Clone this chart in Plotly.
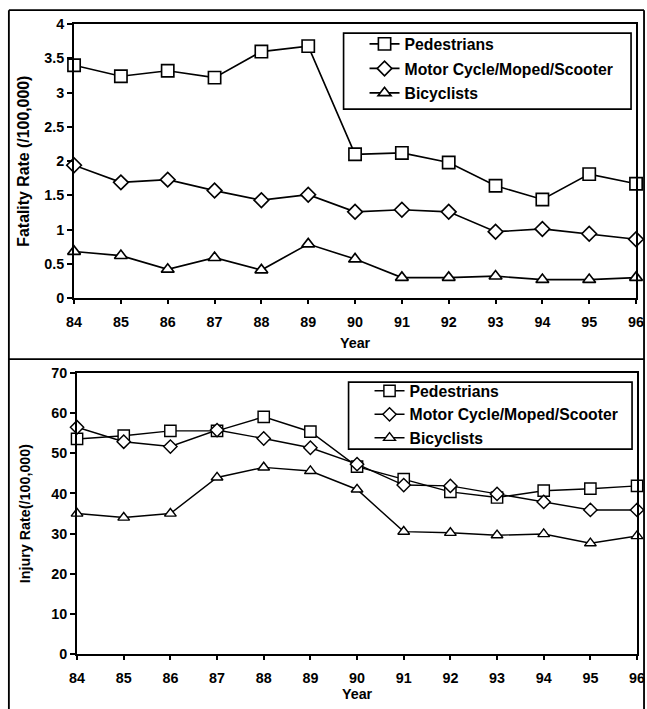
import plotly.graph_objects as go

years = [84, 85, 86, 87, 88, 89, 90, 91, 92, 93, 94, 95, 96]
series_names = ["Pedestrians", "Motor Cycle/Moped/Scooter", "Bicyclists"]

fatal_ped = [3.40, 3.24, 3.32, 3.22, 3.60, 3.68, 2.10, 2.12, 1.98, 1.64, 1.44, 1.81, 1.67]
fatal_moto = [1.94, 1.69, 1.73, 1.57, 1.43, 1.51, 1.26, 1.29, 1.26, 0.97, 1.01, 0.94, 0.86]
fatal_bike = [0.68, 0.62, 0.42, 0.59, 0.41, 0.79, 0.57, 0.30, 0.30, 0.32, 0.27, 0.27, 0.30]

injury_ped = [53.6, 54.4, 55.6, 55.6, 59.1, 55.4, 46.7, 43.6, 40.4, 39.0, 40.7, 41.2, 41.9]
injury_moto = [56.5, 52.9, 51.7, 55.8, 53.7, 51.4, 47.3, 42.1, 41.9, 39.9, 37.9, 35.9, 35.9]
injury_bike = [35.0, 34.0, 35.0, 44.0, 46.5, 45.6, 41.0, 30.5, 30.2, 29.6, 29.9, 27.6, 29.4]

# Layout positions below are given in reference-image pixels (647 x 709).
ZX, ZY = 647 / 662, 709 / 725   # observed capture zoom
OFF = 8                          # observed page offset of the figure
FW, FH = 655, 718
K = 1 / ZX


def px_x(v):
    return (v / ZX - OFF) / FW


def px_y(v):
    return 1 - (v / ZY - OFF) / FH


def s(v):
    return v * K


def si(v):
    return int(round(v * K))


symbols = ["square", "diamond", "triangle-up"]
sizes = [12, 11, 11]

fig = go.Figure()

font_fam = "Liberation Sans, Arial, sans-serif"

for i, (name, vals) in enumerate(zip(series_names, [fatal_ped, fatal_moto, fatal_bike])):
    fig.add_trace(go.Scatter(
        x=years, y=vals, name=name, mode="lines+markers",
        line=dict(color="black", width=s(1.6)),
        marker=dict(symbol=symbols[i], size=s(sizes[i]), color="white",
                    line=dict(color="black", width=s(1.6))),
        xaxis="x", yaxis="y", legend="legend", cliponaxis=False,
        legendgroup="a%d" % i,
    ))

for i, (name, vals) in enumerate(zip(series_names, [injury_ped, injury_moto, injury_bike])):
    fig.add_trace(go.Scatter(
        x=years, y=vals, name=name, mode="lines+markers",
        line=dict(color="black", width=s(1.4)),
        marker=dict(symbol=symbols[i], size=s(sizes[i] - 1), color="white",
                    line=dict(color="black", width=s(1.4))),
        xaxis="x2", yaxis="y2", legend="legend2", cliponaxis=False,
        legendgroup="b%d" % i,
    ))

tickfont = dict(family=font_fam, size=s(14), color="black", weight="bold")
titlefont = dict(family=font_fam, size=s(14), color="black", weight="bold")
ytitle1_font = dict(family=font_fam, size=s(15.5), color="black", weight="bold")
legfont = dict(family=font_fam, size=s(15.4), color="black", weight="bold")

common_x = dict(
    tickmode="array", tickvals=years, ticktext=[str(y) for y in years],
    showgrid=False, zeroline=False, showline=True, linecolor="black", linewidth=s(1.6),
    mirror=True, ticks="outside", ticklen=s(4), tickwidth=s(1.5), tickcolor="black",
    tickfont=tickfont, ticklabelstandoff=si(6),
)
common_y = dict(
    showgrid=False, zeroline=False, showline=True, linecolor="black", linewidth=s(1.6),
    mirror=True, ticks="outside", ticklen=s(5), tickwidth=s(1.5), tickcolor="black",
    tickfont=tickfont,
)

fig.update_layout(
    width=FW, height=FH,
    margin=dict(l=0, r=0, t=0, b=0),
    paper_bgcolor="white", plot_bgcolor="white",
    showlegend=True,
    xaxis=dict(domain=[px_x(74), px_x(637)], range=[84, 96], anchor="y",
               title=dict(text="Year", font=titlefont, standoff=s(9)), **common_x),
    yaxis=dict(domain=[px_y(298), px_y(24)], range=[0, 4], dtick=0.5, anchor="x",
               title=dict(text="Fatality Rate (/100,000)", font=ytitle1_font, standoff=s(11)), **common_y),
    xaxis2=dict(domain=[px_x(77), px_x(638)], range=[84, 96], anchor="y2",
                title=dict(text="Year", font=titlefont, standoff=s(3)), **common_x),
    yaxis2=dict(domain=[px_y(654), px_y(373)], range=[0, 70], dtick=10, anchor="x2",
                title=dict(text="Injury Rate(/100,000)", font=titlefont, standoff=s(17)), **common_y),
    legend=dict(x=px_x(365), y=px_y(27), xanchor="left", yanchor="top",
                borderwidth=0, bgcolor="rgba(0,0,0,0)",
                font=legfont, traceorder="grouped", tracegroupgap=1, itemwidth=30),
    legend2=dict(x=px_x(370), y=px_y(374), xanchor="left", yanchor="top",
                 borderwidth=0, bgcolor="rgba(0,0,0,0)",
                 font=legfont, traceorder="grouped", tracegroupgap=0, itemwidth=30),
)

# legend boxes
fig.add_shape(type="rect", xref="paper", yref="paper", layer="above",
              x0=px_x(344), x1=px_x(632), y0=px_y(109), y1=px_y(33),
              line=dict(color="black", width=s(1.6)), fillcolor="white")
fig.add_shape(type="rect", xref="paper", yref="paper", layer="above",
              x0=px_x(349), x1=px_x(633), y0=px_y(449), y1=px_y(382),
              line=dict(color="black", width=s(1.6)), fillcolor="white")

# outer panel frames
line = dict(color="black", width=s(1.8))
fig.add_shape(type="line", xref="paper", yref="paper", x0=px_x(8.7), x1=px_x(8.7), y0=px_y(10), y1=0, line=line)
fig.add_shape(type="line", xref="paper", yref="paper", x0=px_x(645), x1=px_x(645), y0=px_y(10), y1=0, line=line)
fig.add_shape(type="line", xref="paper", yref="paper", x0=px_x(8.7), x1=px_x(645), y0=px_y(10), y1=px_y(10), line=line)
fig.add_shape(type="line", xref="paper", yref="paper", x0=px_x(8.7), x1=px_x(645), y0=px_y(359), y1=px_y(359), line=line)

fig.write_html(
    "out.html",
    config={"displayModeBar": False},
    post_script=(
        "document.body.style.setProperty('margin','0','important');"
        "document.documentElement.style.overflow='hidden';"
        "document.body.style.overflow='hidden';"
    ),
)
